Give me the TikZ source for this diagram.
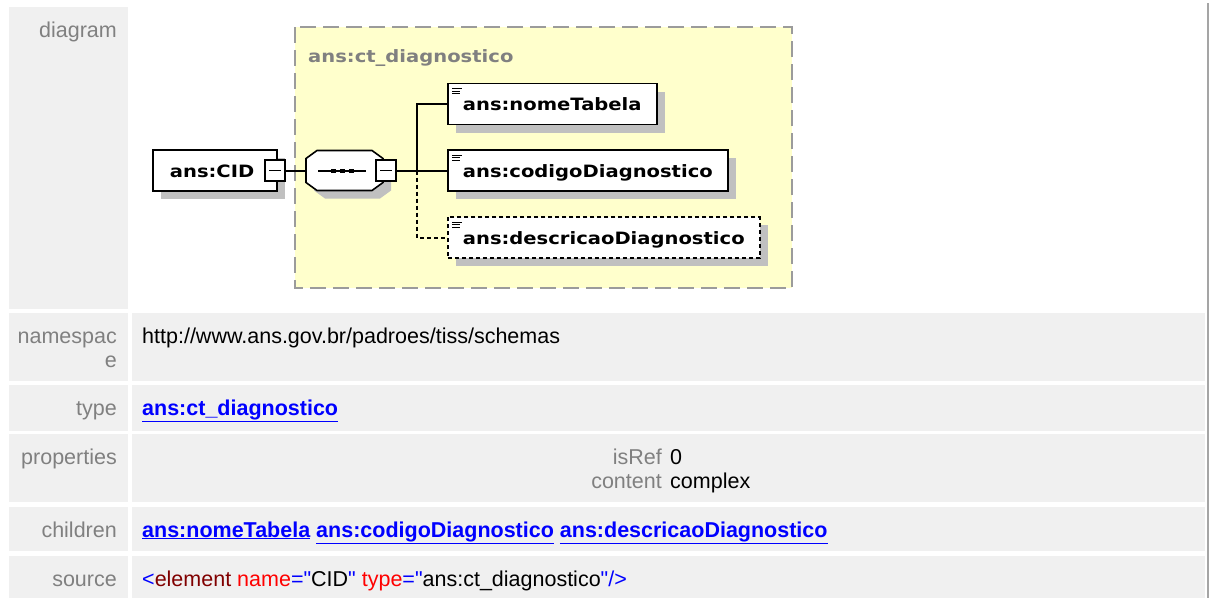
\documentclass[tikz,border=0pt]{standalone}
\usepackage{fontspec}
\setmainfont{Liberation Sans}
\newfontfamily\diafont[FakeStretch=1.15]{DejaVu Sans}
\usetikzlibrary{calc,shadows}
\definecolor{cellgray}{RGB}{240,240,240}
\definecolor{labelgray}{RGB}{128,128,128}
\definecolor{linkblue}{RGB}{0,0,255}
\definecolor{ctyellow}{RGB}{255,255,204}
\definecolor{ctborder}{RGB}{155,155,155}
\definecolor{shadowgray}{RGB}{192,192,192}
\definecolor{framegray}{RGB}{165,165,165}
\definecolor{xmlblue}{RGB}{0,0,255}
\definecolor{xmltag}{RGB}{128,0,0}
\definecolor{xmlattr}{RGB}{255,0,0}
\tikzset{
  every picture/.style={x=1pt, y=-1pt},
  tablefont/.style={font=\fontsize{21.5}{24}\selectfont},
  lbl/.style={tablefont, text=labelgray, inner sep=0pt, anchor=base east, align=right},
  val/.style={tablefont, text=black, inner sep=0pt, anchor=base west},
  lnk/.style={val, text=linkblue, font=\fontsize{21.5}{24}\selectfont\bfseries},
  elem/.style={draw=black, line width=1.8pt, fill=white, anchor=west,
    font=\diafont\bfseries\fontsize{17}{20}\selectfont, text height=13pt, text depth=0pt,
    inner xsep=15pt, inner ysep=0pt, minimum height=41pt,
    general shadow={fill=shadowgray, shadow xshift=8pt, shadow yshift=-8pt}},
  optelem/.style={elem, dash pattern=on 4pt off 3pt},
  seqbox/.style={minimum width=77pt, minimum height=40pt, inner sep=0pt},
  octo/.style={draw=black, line width=1.6pt, fill=white},
  minus/.style={draw=black, line width=1.1pt, fill=white, minimum width=20pt, minimum height=21pt, inner sep=0pt},
  ctype/.style={draw=ctborder, fill=ctyellow, line width=2pt, dash pattern=on 16pt off 7pt},
  cttitle/.style={font=\diafont\bfseries\fontsize{17}{20}\selectfont, text=labelgray, inner sep=0pt, anchor=base west},
  link/.style={line width=2pt},
  optlink/.style={link, dash pattern=on 4pt off 3pt},
  icon/.style={line width=0.9pt},
}
\begin{document}
\begin{tikzpicture}
  \useasboundingbox (0,0) rectangle (1215,598);
  % table cells
  \fill[cellgray] (9,7) rectangle (128,309);
  \foreach \t/\b in {313/381,385/431,434/502,507/551,556/598} {
    \fill[cellgray] (9,\t) rectangle (128,\b);
    \fill[cellgray] (132,\t) rectangle (1205,\b);
  }
  \draw[framegray, line width=2pt] (1208,3) -- (1208,598);
  % labels and values
  \node[lbl] (ldiagram) at (117,37) {diagram};
  \node[lbl] (lns) at (117,367) {namespac\\e};
  \node[val] (ns) at (142,343) {http://www.ans.gov.br/padroes/tiss/schemas};
  \node[lbl] (ltype) at (117,415) {type};
  \node[lnk] (type) at (142,415) {\underline{ans:ct\_diagnostico}};
  \node[lbl] (lprops) at (117,464) {properties};
  \node[lbl] (lisref) at (662,464) {isRef};
  \node[val] (isref) at (670,464) {0};
  \node[lbl] (lcontent) at (662,488) {content};
  \node[val] (content) at (670,488) {complex};
  \node[lbl] (lkids) at (117,537) {children};
  \node[lnk] (kids) at (142,537) {\underline{ans:nomeTabela} \underline{ans:codigoDiagnostico} \underline{ans:descricaoDiagnostico}};
  \node[lbl] (lsrc) at (117,586) {source};
  \node[val] (src) at (142,586) {\textcolor{xmlblue}{<}\textcolor{xmltag}{element} \textcolor{xmlattr}{name}\textcolor{xmlblue}{=\textquotedbl}CID\textcolor{xmlblue}{\textquotedbl} \textcolor{xmlattr}{type}\textcolor{xmlblue}{=\textquotedbl}ans:ct\_diagnostico\textcolor{xmlblue}{\textquotedbl/>}};
  % complex type
  \draw[ctype] (295,27) rectangle (792,288);
  \node[cttitle] (ct) at (308,62) {ans:ct\_diagnostico};
  % element and sequence
  \node[elem, text width=90pt, align=left, inner xsep=17pt] (cid) at (152,170.5) {ans:CID};
  \node[minus] (m1) at (275,170.5) {};
  \node[seqbox] (seq) at (344.5,170.5) {};
  \fill[shadowgray] ($(seq.center)+(-30.5,-4)$) -- ++(11,-8) -- ++(55,0) -- ++(11,8) -- ++(0,24) -- ++(-11,8) -- ++(-55,0) -- ++(-11,-8) -- cycle;
  \draw[octo] ($(seq.center)+(-38.5,-12)$) -- ++(11,-8) -- ++(55,0) -- ++(11,8) -- ++(0,24) -- ++(-11,8) -- ++(-55,0) -- ++(-11,-8) -- cycle;
  \draw[link] ($(seq.center)+(-26.5,0)$) -- ($(seq.center)+(21.5,0)$);
  \foreach \d in {-11.5,-2.5,6.5} \fill ($(seq.center)+(\d-2.5,-2)$) rectangle ++(5,4);
  \node[minus] (m2) at (386,170.5) {};
  \foreach \m in {m1,m2} \draw[line width=1.1pt] ($(\m.center)+(-6,0)$) -- ($(\m.center)+(6,0)$);
  % children
  \node[elem] (nome) at (447,104) {ans:nomeTabela};
  \node[elem] (codigo) at (447,170.5) {ans:codigoDiagnostico};
  \node[optelem] (desc) at (447,237.5) {ans:descricaoDiagnostico};
  \foreach \n in {nome,codigo,desc} {
    \draw[icon] ($(\n.north west)+(5,6)$) -- ++(10,0);
    \draw[icon] ($(\n.north west)+(5,8.7)$) -- ++(8,0);
    \draw[icon] ($(\n.north west)+(5,11.3)$) -- ++(8,0);
  }
  % connectors
  \coordinate (J) at (417,170.5);
  \draw[link] (m1.east) -- (seq.west);
  \draw[link] (m2.east) -- (codigo.west);
  \draw[link] (J) |- (nome.west);
  \draw[optlink] (J) |- (desc.west);
\end{tikzpicture}
\end{document}
